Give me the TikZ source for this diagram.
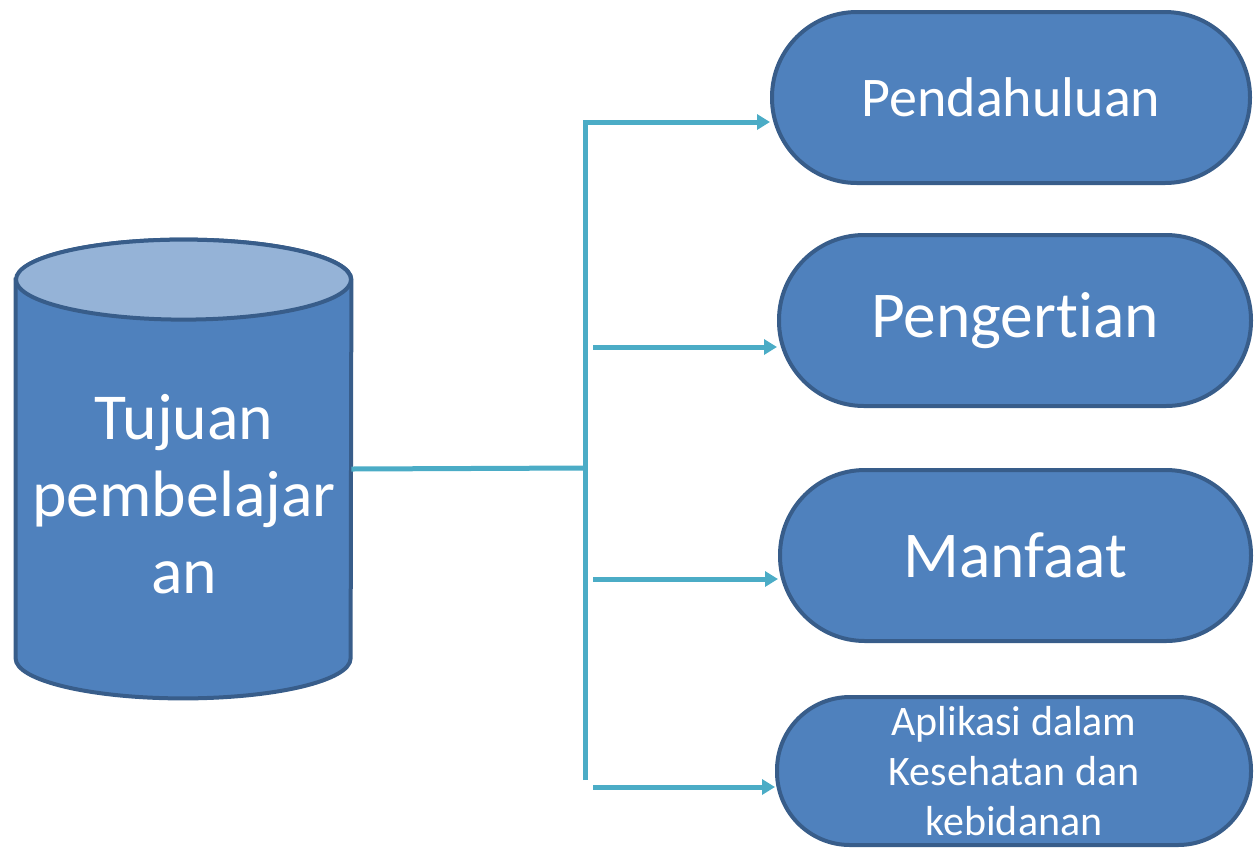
\documentclass[tikz,border=0pt]{standalone}
\usepackage{fontspec}
\setmainfont{Carlito}[Ligatures=NoCommon]
\usepackage{tikz}
\usetikzlibrary{arrows.meta,positioning}
\definecolor{boxblue}{HTML}{4F81BD}
\definecolor{boxedge}{HTML}{385D8A}
\definecolor{toplight}{HTML}{95B3D7}
\definecolor{linkcyan}{HTML}{4BACC6}

\begin{document}
\begin{tikzpicture}[x=0.5pt, y=-0.5pt,
    stadium/.style={draw=boxedge, line width=2pt, fill=boxblue, rectangle, text=white, align=center, inner sep=0pt},
    link/.style={draw=linkcyan, line width=2.5pt},
    arrowlink/.style={link, -{Triangle[length=6.5pt,width=7.5pt]}}]
    \useasboundingbox (0,0) rectangle (1254,848);

    % cylinder on the left
    \node[minimum width=167.5pt, minimum height=189pt, inner sep=0pt] (tujuan) at (183.5,469) {};
    \draw[draw=boxedge, line width=2pt, fill=boxblue] (tujuan.north west) -- (tujuan.south west)
        arc[start angle=180, end angle=360, x radius=83.75pt, y radius=20pt]
        -- (tujuan.north east)
        arc[start angle=0, end angle=180, x radius=83.75pt, y radius=20pt] -- cycle;
    \draw[draw=boxedge, line width=2pt, fill=toplight] (tujuan.north) ellipse[x radius=83.75pt, y radius=20pt];
    \node[text=white, align=center, font=\fontsize{32.8}{38.5}\selectfont] (tujuanlabel) at (184,494) {Tujuan\\pembelajar\\an};

    % boxes on the right
    \node[stadium, minimum width=239pt, minimum height=85.5pt, rounded corners=42.5pt, font=\fontsize{28}{33}\selectfont] (pendahuluan) at (1011,97.5) {Pendahuluan};
    \node[stadium, minimum width=236pt, minimum height=85.5pt, rounded corners=42.5pt, font=\fontsize{32.7}{38}\selectfont] (pengertian) at (1015,320.5) {Pengertian};
    \node[stadium, minimum width=235.5pt, minimum height=85.5pt, rounded corners=42.5pt, font=\fontsize{32.7}{38}\selectfont] (manfaat) at (1015.5,555.5) {Manfaat};
    \node[stadium, minimum width=237pt, minimum height=74pt, rounded corners=36.5pt, font=\fontsize{21}{25}\selectfont] (aplikasi) at (1014,771) {Aplikasi dalam\\Kesehatan dan\\kebidanan};

    % connectors
    \coordinate (fork) at (585,468);
    \coordinate (forktop) at (585,122);
    \coordinate (forkbottom) at (585,780);
    \coordinate (toPengertian) at (593,347);
    \coordinate (toManfaat) at (593,579);
    \coordinate (toAplikasi) at (593,787);

    \draw[link] (tujuan.east) -- (fork);
    \draw[arrowlink] (forkbottom) -- (forktop) -- (forktop -| pendahuluan.west);
    \draw[arrowlink] (toPengertian) -- (toPengertian -| pengertian.west);
    \draw[arrowlink] (toManfaat) -- (toManfaat -| manfaat.west);
    \draw[arrowlink] (toAplikasi) -- (toAplikasi -| aplikasi.west);
\end{tikzpicture}
\end{document}
